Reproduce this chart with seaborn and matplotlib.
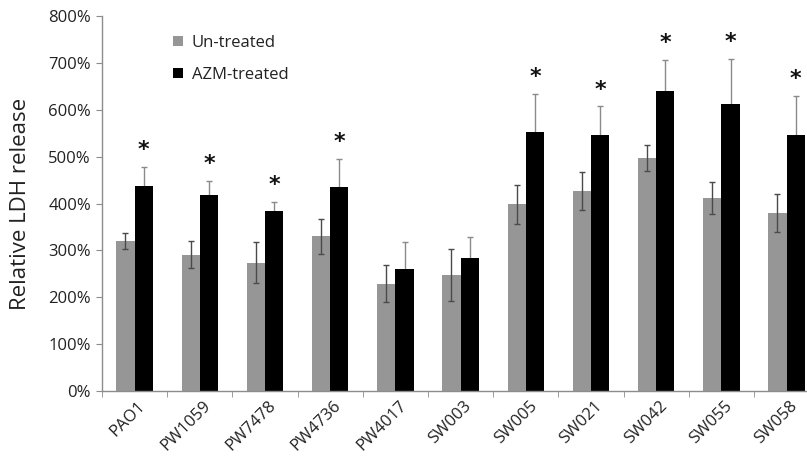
import matplotlib
matplotlib.use("Agg")
import matplotlib.pyplot as plt
import matplotlib.transforms as mtransforms
import seaborn as sns
import pandas as pd
import numpy as np
from matplotlib.ticker import PercentFormatter, FixedLocator

strains = ["PAO1", "PW1059", "PW7478", "PW4736", "PW4017", "SW003",
           "SW005", "SW021", "SW042", "SW055", "SW058"]
untreated = [320, 291, 274, 330, 229, 247, 398, 427, 497, 411, 380]
untreated_err = [17, 28, 44, 38, 39, 55, 41, 41, 27, 34, 41]
azm = [437, 419, 384, 436, 260, 283, 553, 547, 639, 612, 547]
azm_err = [40, 30, 20, 60, 58, 45, 80, 60, 68, 96, 83]
significant = [True, True, True, True, False, False, True, True, True, True, True]
groups = ["Un-treated", "AZM-treated"]
yticks = [0, 100, 200, 300, 400, 500, 600, 700, 800]

df = pd.DataFrame({
    "strain": strains * 2,
    "group": [groups[0]] * len(strains) + [groups[1]] * len(strains),
    "value": untreated + azm,
})

sns.set_style("white")
plt.rcParams["font.family"] = ["Open Sans", "DejaVu Sans"]

fig = plt.figure(figsize=(8.07, 4.58), dpi=100)
ax = fig.add_axes([102 / 807, (458 - 391) / 458, (807 - 102) / 807, (391 - 16) / 458])

sns.barplot(data=df, x="strain", y="value", hue="group", order=strains,
            hue_order=groups, palette=["#969696", "#000000"], width=0.56,
            errorbar=None, saturation=1, ax=ax, legend=True,
            linewidth=0, edgecolor="none")

# error bars (black-bar errors sit behind the bar so only the upper half shows)
for cont, vals, errs, col, z in [
        (ax.containers[0], untreated, untreated_err, "#4a4a4a", 3),
        (ax.containers[1], azm, azm_err, "#8a8a8a", 0.5)]:
    xs = [p.get_x() + p.get_width() / 2 for p in cont.patches]
    ax.errorbar(xs, vals, yerr=errs, fmt="none", ecolor=col, elinewidth=1.0,
                capsize=2.5, capthick=1.0, zorder=z)

# significance stars
for i, p in enumerate(ax.containers[1].patches):
    if significant[i]:
        x = p.get_x() + p.get_width() / 2
        ax.annotate("*", xy=(x, azm[i] + azm_err[i]), xytext=(0, 5),
                    textcoords="offset points", ha="center", va="bottom",
                    fontsize=16, fontweight="bold", color="#111111",
                    family="DejaVu Sans")

ax.set_ylim(0, 800)
ax.set_xlim(-0.5, -0.5 + 705 / 65.2)
ax.yaxis.set_major_locator(FixedLocator(yticks))
ax.yaxis.set_major_formatter(PercentFormatter(decimals=0))
ax.set_xlabel("")
ax.set_ylabel("Relative LDH release", fontsize=16, color="#222222", labelpad=12)

for s in ["top", "right"]:
    ax.spines[s].set_visible(False)
for s in ["left", "bottom"]:
    ax.spines[s].set_color("#8c8c8c")
    ax.spines[s].set_linewidth(1.0)

ax.tick_params(axis="y", which="major", left=True, length=4, color="#8c8c8c",
               labelsize=12, labelcolor="#222222", pad=4)
ax.tick_params(axis="x", which="major", bottom=False, length=0,
               labelsize=12, labelcolor="#222222", pad=5)
ax.xaxis.set_minor_locator(FixedLocator(np.arange(-0.5, len(strains), 1.0)))
ax.tick_params(axis="x", which="minor", bottom=True, length=4, color="#8c8c8c")
shift = mtransforms.ScaledTranslation(3 / 100, 0, fig.dpi_scale_trans)
for lab in ax.get_xticklabels():
    lab.set_rotation(45)
    lab.set_ha("right")
    lab.set_rotation_mode("anchor")
    lab.set_transform(lab.get_transform() + shift)

leg = ax.legend(loc="upper left", bbox_to_anchor=(0.08, 0.99), frameon=False,
                fontsize=12, handlelength=0.55, handleheight=0.55,
                handletextpad=0.55, labelspacing=0.95)
for t in leg.get_texts():
    t.set_color("#222222")

fig.savefig("out.png", dpi=100)
